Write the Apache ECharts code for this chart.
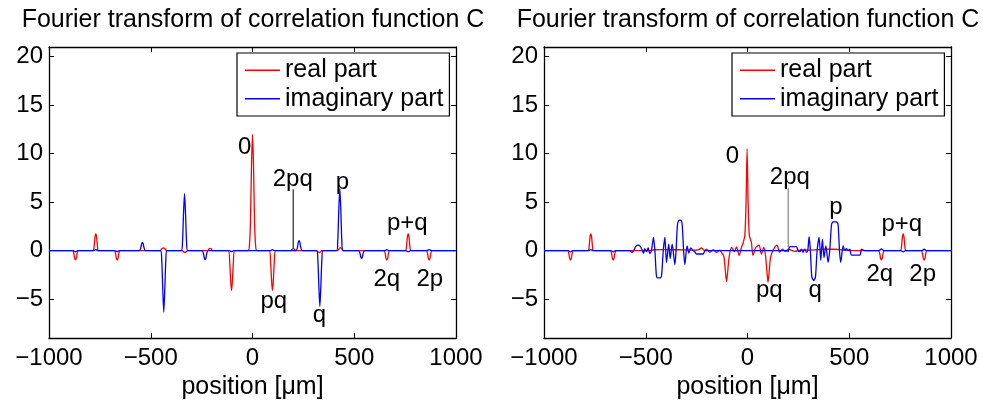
<!DOCTYPE html>
<html>
<head>
<meta charset="utf-8">
<script src="https://cdn.jsdelivr.net/npm/echarts@6/dist/echarts.min.js"></script>
<style>
html,body{margin:0;padding:0;background:#fff;}
#chart{width:983px;height:400px;}
</style>
</head>
<body>
<div id="chart"></div>
<script>
// ---------- data ----------
var titleText = 'Fourier transform of correlation function C';
var xAxisName = 'position [\u03bcm]';
var legendNames = ['real part', 'imaginary part'];
var xTicks = [-1000, -500, 0, 500, 1000];
var yTicks = [-5, 0, 5, 10, 15, 20];

// left panel, real part [position, value]
var leftReal = [
  [-1000,0],
  [-884,0],[-878,-0.3],[-874,-0.8],[-870,-0.95],[-866,-0.8],[-862,-0.3],[-856,0],
  [-784,0],[-778,0.5],[-774,1.4],[-770,1.72],[-766,1.4],[-762,0.5],[-756,0],
  [-679,0],[-673,-0.3],[-669,-0.8],[-665,-0.96],[-661,-0.8],[-657,-0.3],[-651,0],
  [-454,0],[-446,0.2],[-438,0.3],[-430,0.2],[-422,0],
  [-344,0],[-338,-0.12],[-332,-0.17],[-326,-0.12],[-320,0],
  [-220,0],[-214,0.18],[-208,0.25],[-202,0.18],[-196,0],
  [-119,0],[-112,-1.2],[-107,-3.2],[-103,-4.1],[-99,-3.2],[-94,-1.2],[-87,0],
  [-22,0],[-15,0.6],[-10,3],[-5,8.8],[0,12],[5,8.8],[10,3],[15,0.6],[22,0],
  [82,0],[89,-1.2],[94,-3.2],[98,-4.1],[102,-3.2],[107,-1.2],[114,0],
  [188,0],[194,0.16],[200,0.22],[206,0.16],[212,0],
  [316,0],[322,-0.14],[328,-0.2],[334,-0.14],[340,0],
  [418,0],[426,0.22],[432,0.32],[438,0.22],[446,0],
  [646,0],[652,-0.3],[656,-0.8],[660,-0.96],[664,-0.8],[668,-0.3],[674,0],
  [751,0],[757,0.5],[761,1.4],[765,1.72],[769,1.4],[773,0.5],[779,0],
  [854,0],[860,-0.3],[864,-0.8],[868,-0.96],[872,-0.8],[876,-0.3],[882,0],
  [1000,0]
];

// left panel, imaginary part
var leftImag = [
  [-1000,0],
  [-882,0],[-870,-0.12],[-858,0],
  [-782,0],[-770,0.12],[-758,0],
  [-677,0],[-665,-0.1],[-653,0],
  [-556,0],[-549,0.3],[-545,0.7],[-541,0.86],[-537,0.7],[-533,0.3],[-526,0],
  [-452,0],[-446,-1.0],[-441,-4.0],[-436,-6.32],[-431,-4.0],[-426,-1.0],[-420,0],
  [-350,0],[-344,0.9],[-339,3.8],[-334,5.89],[-329,3.8],[-324,0.9],[-318,0],
  [-248,0],[-241,-0.3],[-237,-0.75],[-233,-0.92],[-229,-0.75],[-225,-0.3],[-218,0],
  [-115,0],[-103,-0.1],[-91,0],
  [86,0],[98,0.1],[110,0],
  [214,0],[221,0.35],[225,0.85],[229,1.03],[233,0.85],[237,0.35],[244,0],
  [315,0],[321,-0.9],[326,-3.6],[331,-5.74],[336,-3.6],[341,-0.9],[347,0],
  [413,0],[419,1.0],[424,4.2],[429,6.4],[434,4.2],[439,1.0],[445,0],
  [521,0],[528,-0.25],[532,-0.65],[536,-0.78],[540,-0.65],[544,-0.25],[551,0],
  [648,0],[660,0.1],[672,0],
  [753,0],[765,-0.12],[777,0],
  [856,0],[868,0.12],[880,0],
  [1000,0]
];

// right panel, real part
var rightReal = [
  [-1000,0],
  [-884,0],[-878,-0.3],[-874,-0.8],[-870,-0.96],[-866,-0.8],[-862,-0.3],[-856,0],
  [-784,0],[-778,0.5],[-774,1.4],[-770,1.72],[-766,1.4],[-762,0.5],[-756,0],
  [-674,0],[-668,-0.3],[-664,-0.8],[-660,-0.96],[-656,-0.8],[-652,-0.3],[-646,0],
  [-480,0],[-460,0.1],[-420,0.12],[-380,0.1],[-340,0.1],[-300,0.08],[-260,0.05],
  [-240,0.1],[-226,0.28],[-210,0],[-202,0.15],[-185,-0.17],[-169,0.1],[-152,-0.17],
  [-136,0.05],[-128,-0.17],[-116,-0.6],[-108,-2.3],[-103,-3.18],[-98,-2.3],[-90,-0.6],
  [-78,0.34],[-65,-0.1],[-54,0.4],[-41,-0.5],[-30,0.3],[-21,0.85],[-13,1.6],[-7,5],
  [-2,10.5],[3,5],[9,1.6],[19,0.85],[27,-0.5],[40,0.3],[57,0.58],[68,-0.34],[80,0.34],
  [89,-0.6],[96,-2.3],[101,-3.25],[106,-2.3],[114,-0.6],[133,0.34],[145,0.58],
  [158,-0.17],[171,0.17],[187,-0.1],[199,0.17],[216,0.05],[232,-0.06],[260,0.05],
  [300,0.05],[340,0.1],[380,0.15],[420,0.15],[460,0.1],[500,0.02],[540,0],
  [644,0],[650,-0.3],[654,-0.8],[658,-0.96],[662,-0.8],[666,-0.3],[672,0],
  [751,0],[757,0.5],[761,1.4],[765,1.72],[769,1.4],[773,0.5],[779,0],
  [854,0],[860,-0.3],[864,-0.8],[868,-0.96],[872,-0.8],[876,-0.3],[882,0],
  [1000,0]
];

// right panel, imaginary part
var rightImag = [
  [-1000,0],
  [-882,0],[-870,-0.12],[-858,0],
  [-782,0],[-770,0.12],[-758,0],
  [-672,0],[-660,-0.12],[-648,0],
  [-579,0],[-567,-0.17],[-557,0.1],[-549,0.45],[-538,0.58],[-527,0.45],[-518,0.1],
  [-511,-0.27],[-505,0.2],[-496,-0.1],[-488,0.3],[-480,-0.3],[-472,0],[-462,1.37],
  [-455,0],[-448,-2.5],[-442,-2.8],[-429,-2.8],[-422,-2.5],[-414,0],[-406,1.37],
  [-398,-1.2],[-387,0.68],[-380,-0.8],[-370,0.68],[-357,-1.43],[-351,0],[-344,2.7],
  [-336,3.15],[-328,3.15],[-321,2.7],[-314,0],[-308,-1.43],[-297,0.5],[-288,-0.25],
  [-279,0.3],[-267,0],[-259,-0.1],[-251,-0.34],[-218,-0.34],[-208,0],
  [196,0],[200,-0.1],[208,0.41],[240,0.41],[249,0],[257,-0.1],[265,0.17],[273,-0.17],
  [281,0.17],[290,-0.17],[296,0],[303,1.44],[309,0],[316,-2.7],[326,-3.08],[334,-2.7],
  [342,0],[352,1.37],[360,-1.0],[368,1.2],[376,-0.7],[385,0.5],[396,-1.2],[404,0],
  [413,2.7],[421,2.97],[437,2.97],[445,2.7],[452,0],[458,-1.2],[470,0.5],[478,0],
  [486,0.2],[494,0],[503,0.15],[511,-0.45],[552,-0.45],[560,0.15],[576,0],
  [646,0],[658,0.18],[670,0],
  [753,0],[765,-0.12],[777,0],
  [856,0],[868,0.15],[880,0],
  [1000,0]
];

// annotation texts and their data positions
var leftLabels = [
  [-38, 10.67, '0'], [198, 7.32, '2pq'], [442, 7.08, 'p'], [105, -5.22, 'pq'],
  [329, -6.71, 'q'], [761, 2.81, 'p+q'], [660, -2.94, '2q'], [871, -2.94, '2p']
];
var rightLabels = [
  [-74, 9.68, '0'], [208, 7.57, '2pq'], [434, 4.45, 'p'], [758, 2.74, 'p+q'],
  [107, -4.09, 'pq'], [332, -4.09, 'q'], [650, -2.4, '2q'], [861, -2.4, '2p']
];
var leftPointer = [[200, 0.25], [200, 6.33]];
var rightPointer = [[200, 0.35], [200, 6.43]];

// ---------- chart ----------
var FONT = 'Liberation Sans, Arial, Helvetica, sans-serif';
var chart = echarts.init(document.getElementById('chart'), null, {renderer: 'canvas'});
var minus = function (v) { return String(v).replace('-', '\u2212'); };

function xAx(gi, bottom) {
  return {
    type: 'value', gridIndex: gi, min: -1000, max: 1000,
    position: bottom ? 'bottom' : 'top',
    name: bottom ? xAxisName : '', nameLocation: 'middle', nameGap: 31,
    nameTextStyle: {fontFamily: FONT, fontSize: 25, color: '#000'},
    axisLine: {show: true, onZero: false, lineStyle: {color: '#000', width: 1.3}},
    axisTick: {show: true, inside: true, length: 5, customValues: xTicks, lineStyle: {color: '#000', width: 1}},
    axisLabel: {show: bottom, customValues: xTicks, margin: 8, formatter: minus,
      fontFamily: FONT, fontSize: 24, color: '#000'},
    splitLine: {show: false}
  };
}
function yAx(gi, left) {
  return {
    type: 'value', gridIndex: gi, min: -9, max: 21,
    position: left ? 'left' : 'right',
    axisLine: {show: true, onZero: false, lineStyle: {color: '#000', width: 1.3}},
    axisTick: {show: true, inside: true, length: 5, customValues: yTicks, lineStyle: {color: '#000', width: 1}},
    axisLabel: {show: left, customValues: yTicks, margin: 6, formatter: minus,
      fontFamily: FONT, fontSize: 24, color: '#000'},
    splitLine: {show: false}
  };
}
function lineSeries(name, data, color, xi, yi) {
  return {
    name: name, type: 'line', data: data, xAxisIndex: xi, yAxisIndex: yi,
    showSymbol: false, symbol: 'none', smooth: 0.25,
    lineStyle: {color: color, width: 1.3}, itemStyle: {color: color},
    emphasis: {disabled: true}, silent: true
  };
}
function labelSeries(data, xi, yi) {
  return {
    type: 'scatter', data: data, xAxisIndex: xi, yAxisIndex: yi,
    symbol: 'circle', symbolSize: 1, itemStyle: {color: 'rgba(255,255,255,0)', opacity: 1}, silent: true,
    label: {show: true, position: 'inside', formatter: function (p) { return p.value[2]; },
      fontFamily: FONT, fontSize: 24, color: '#000', opacity: 1, textBorderWidth: 0}
  };
}
function pointerSeries(data, color, xi, yi) {
  return {
    type: 'line', data: data, xAxisIndex: xi, yAxisIndex: yi, symbol: 'none',
    lineStyle: {color: color, width: 1.1}, silent: true
  };
}
function legendAt(left) {
  return {
    data: legendNames, orient: 'vertical', left: left, top: 53,
    padding: [3, 6, 3, 8], itemGap: 0, itemWidth: 35, itemHeight: 1.5, icon: 'rect',
    borderColor: '#000', borderWidth: 1.2, backgroundColor: '#fff', selectedMode: false,
    textStyle: {fontFamily: FONT, fontSize: 25, color: '#000', lineHeight: 28.5}
  };
}

var option = {
  animation: false,
  backgroundColor: '#fff',
  title: [
    {text: titleText, left: 253, top: 8, padding: 0, textAlign: 'center',
      textStyle: {fontFamily: FONT, fontSize: 25, fontWeight: 'normal', color: '#000'}},
    {text: titleText, left: 748, top: 8, padding: 0, textAlign: 'center',
      textStyle: {fontFamily: FONT, fontSize: 25, fontWeight: 'normal', color: '#000'}}
  ],
  legend: [legendAt(237), legendAt(732)],
  grid: [
    {left: 49, top: 47, width: 407, height: 291, outerBoundsMode: 'none', containLabel: false},
    {left: 544, top: 47, width: 407, height: 291, outerBoundsMode: 'none', containLabel: false}
  ],
  xAxis: [xAx(0, true), xAx(0, false), xAx(1, true), xAx(1, false)],
  yAxis: [yAx(0, true), yAx(0, false), yAx(1, true), yAx(1, false)],
  series: [
    lineSeries(legendNames[0], leftReal, '#ff0000', 0, 0),
    lineSeries(legendNames[1], leftImag, '#0000ff', 0, 0),
    pointerSeries(leftPointer, '#111', 0, 0),
    labelSeries(leftLabels, 0, 0),
    lineSeries(legendNames[0], rightReal, '#ff0000', 2, 2),
    lineSeries(legendNames[1], rightImag, '#0000ff', 2, 2),
    pointerSeries(rightPointer, '#777', 2, 2),
    labelSeries(rightLabels, 2, 2)
  ]
};
chart.setOption(option);
</script>
</body>
</html>
